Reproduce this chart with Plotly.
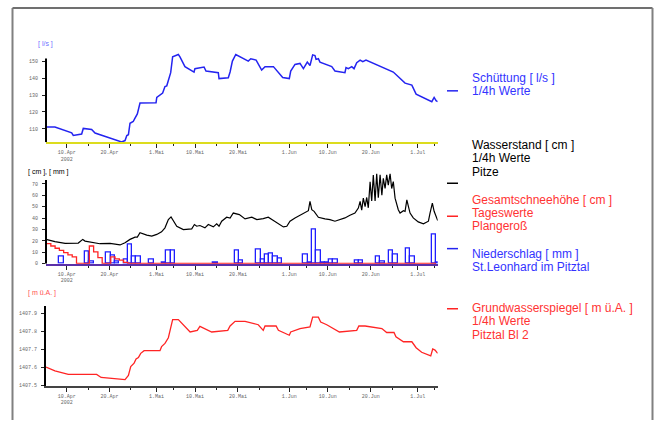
import plotly.graph_objects as go
import pandas as pd

# ---------------- data ----------------
# Schüttung [l/s], 1/4h Werte
q_time = ["04-05 04","04-07 06","04-11 04","04-11 13","04-13 12","04-13 21","04-15 20","04-16 15",
          "04-22 20","04-23 15","04-24 01","04-24 10","04-24 19","04-25 13","04-25 23","04-26 12",
          "04-27 03","04-30 21","05-01 01","05-02 10","05-02 23","05-03 09","05-04 07","05-04 18",
          "05-06 02","05-06 11","05-07 15","05-09 18","05-09 23","05-12 02","05-12 13","05-15 10",
          "05-15 14","05-17 18","05-18 04","05-18 17","05-19 12","05-22 10","05-23 00","05-24 06",
          "05-25 13","05-26 08","05-28 07","05-30 11","06-01 00","06-01 08","06-02 08","06-03 12",
          "06-04 07","06-05 05","06-05 20","06-06 11","06-07 00","06-07 06","06-07 19","06-08 04",
          "06-10 22","06-11 16","06-14 00","06-14 06","06-14 19","06-15 14","06-16 03","06-16 18",
          "06-17 13","06-18 04","06-18 22","06-25 07","06-28 01","06-29 15","06-30 15","07-04 07",
          "07-04 20","07-05 07","07-05 16"]
q_val = [111, 111, 107.6, 106, 106.9, 110.2, 109.6, 107.5, 102.2, 103, 106, 106.5, 113.3, 114.3,
         116.3, 118.8, 125.3, 125.5, 128.6, 131.2, 135.1, 135.5, 143.3, 152.8, 154.1, 152.7, 146.9,
         143.7, 145.7, 146.7, 144.3, 143.3, 139.8, 140.3, 143.7, 150.2, 154.1, 150.2, 151.6, 150.8,
         144.9, 146.9, 146.9, 140.4, 139.8, 144.3, 148.2, 148.8, 145.7, 149.6, 147.6, 153.9, 153.5,
         151.2, 151.6, 149.6, 146.9, 144.3, 143.3, 146.3, 145.7, 146.9, 145.7, 149.2, 150.8, 149.8,
         150.8, 143.7, 137.1, 135.9, 130.6, 126.1, 128.6, 126.7, 126.1]

# Wasserstand [cm], 1/4h Werte, Pitze
ws_time = ["04-05 04","04-06 02","04-07 06","04-09 15","04-12 17","04-13 18","04-14 07","04-17 18",
           "04-20 03","04-22 11","04-23 15","04-24 19","04-25 23","04-26 12","04-27 03","04-28 17",
           "04-29 21","05-01 01","05-02 04","05-02 23","05-03 18","05-04 09","05-04 22","05-05 17",
           "05-07 06","05-09 05","05-09 20","05-10 09","05-11 03","05-12 07","05-13 02","05-14 06",
           "05-15 01","05-15 14","05-16 05","05-17 09","05-18 04","05-18 22","05-20 08","05-21 16",
           "05-23 06","05-24 10","05-25 22","05-27 02","05-28 07","05-29 20","05-30 15","05-31 10",
           "06-01 04","06-02 08","06-03 12","06-04 16","06-05 11","06-05 20","06-06 06","06-06 19",
           "06-07 19","06-09 08","06-10 12","06-11 16","06-12 21","06-14 00","06-15 04","06-16 08",
           "06-17 03","06-17 13","06-17 22","06-18 07","06-18 17","06-19 02","06-19 11","06-19 21",
           "06-20 06","06-20 15","06-21 01","06-21 10","06-21 19","06-22 05","06-22 15","06-22 23",
           "06-23 09","06-23 18","06-24 03","06-24 13","06-24 22","06-25 07","06-25 17","06-26 02",
           "06-26 11","06-26 21","06-27 16","06-28 01","06-28 11","06-28 20","06-29 05","06-29 23",
           "07-01 03","07-02 08","07-03 12","07-03 21","07-04 10","07-04 20","07-05 07","07-05 16"]
ws_val = [21.2, 20.3, 19.2, 17.7, 18, 21.2, 19.7, 17.4, 17.7, 16.3, 18.3, 21.2, 23.2, 23.2, 27, 25,
          24.1, 25.6, 27.9, 31.4, 38.6, 41, 37.2, 32.8, 29.9, 30.5, 34.3, 32.8, 33.4, 31.4, 34.3, 32.2,
          34.9, 32.8, 37.2, 40.7, 40, 44.4, 43, 39.2, 40.7, 38.6, 39.5, 40.7, 37.8, 34.3, 32.2, 32.8,
          37.2, 40.1, 42.4, 44.4, 46.5, 54.6, 47.3, 45.9, 40.7, 39.2, 38.6, 37.2, 38.6, 40.1, 42.4, 44.4,
          48.8, 54.6, 47, 57.5, 50, 58.1, 49, 72, 55, 77.8, 55, 79, 58, 78, 60, 74.9,
          66, 78, 69, 79, 66, 72, 57.5, 51.7, 47.3, 44.4, 46.5, 45.9, 56, 50, 44.4, 40.1,
          36.6, 34.9, 37.2, 44.4, 53.1, 45.9, 40.7, 37.8]

# Gesamtschneehöhe [cm], Tageswerte, Plangeroß
snow_day = ["04-04","04-05","04-06","04-07","04-08","04-09","04-10","04-11","04-12","04-13","04-14",
            "04-15","04-16","04-17","04-18","04-19","04-20","04-21","04-22","04-23","04-24","07-05"]
snow_val = [17.4, 17.4, 15.4, 13.4, 11.6, 9.6, 7.6, 5.8, 0, 0, 0,
            15.4, 10.2, 5.2, 0, 0, 5.8, 4, 3, 1, 0, 0]

# Niederschlag [mm], St.Leonhard im Pitztal (daily sums)
rain_day = ["04-08","04-14","04-15","04-19","04-20","04-21","04-23","04-24","04-25","04-26","04-29",
            "05-02","05-03","05-04","05-14","05-19","05-20","05-24","05-25","05-26","05-27","05-28",
            "05-29","06-04","06-05","06-06","06-07","06-08","06-09","06-10","06-11","06-16","06-17",
            "06-21","06-22","06-24","06-25","06-28","06-29","07-04","07-05"]
rain_val = [5.8, 10.2, 1.5, 9.6, 6.7, 2, 3.8, 16.8, 5.8, 5.8, 3.8,
            1, 11, 11.6, 1, 11.6, 2.3, 11.9, 3.8, 8.1, 8.7, 6.1,
            4.4, 7.5, 0.5, 29.9, 11.6, 0.5, 1, 3.8, 3.8, 2.3, 2.3,
            5.8, 1.7, 11.6, 7.5, 13.4, 6.4, 25.6, 1]

# Grundwasserspiegel [m ü.A.], 1/4h Werte, Pitztal Bl 2
gw_time = ["04-05 04","04-07 06","04-10 09","04-17 00","04-18 01","04-20 03","04-23 15","04-24 10",
           "04-24 23","04-25 18","04-26 05","04-26 18","04-27 07","04-28 02","05-01 19","05-02 04",
           "05-02 23","05-03 18","05-04 18","05-06 02","05-07 15","05-08 20","05-10 12","05-11 03",
           "05-13 21","05-17 15","05-18 04","05-19 08","05-21 16","05-24 18","05-25 22","05-26 08",
           "05-28 22","05-29 11","06-01 00","06-01 08","06-03 12","06-05 20","06-06 11","06-07 19",
           "06-08 08","06-09 18","06-12 17","06-16 18","06-17 06","06-18 17","06-22 15","06-23 18",
           "06-25 11","06-25 22","06-27 16","06-29 15","06-30 15","07-01 22","07-04 01","07-04 12",
           "07-05 01","07-05 16"]
gw_val = [1407.602, 1407.582, 1407.562, 1407.562, 1407.545, 1407.542, 1407.533, 1407.556,
          1407.605, 1407.624, 1407.647, 1407.655, 1407.678, 1407.693, 1407.693, 1407.715,
          1407.733, 1407.764, 1407.864, 1407.864, 1407.824, 1407.796, 1407.805, 1407.827,
          1407.796, 1407.805, 1407.829, 1407.855, 1407.855, 1407.836, 1407.805, 1407.829,
          1407.829, 1407.805, 1407.778, 1407.796, 1407.815, 1407.824, 1407.878, 1407.878,
          1407.851, 1407.836, 1407.796, 1407.805, 1407.829, 1407.829, 1407.815, 1407.793,
          1407.793, 1407.769, 1407.742, 1407.742, 1407.709, 1407.684, 1407.664, 1407.702,
          1407.696, 1407.678]

x_range = ["2002-04-05 04:00", "2002-07-05 16:00"]
major_ticks = ["2002-04-10", "2002-04-20", "2002-05-01", "2002-05-10", "2002-05-20",
               "2002-06-01", "2002-06-10", "2002-06-20", "2002-07-01"]
major_labels = ["10.Apr<br>2002", "20.Apr", "1.Mai", "10.Mai", "20.Mai",
                "1.Jun", "10.Jun", "20.Jun", "1.Jul"]
minor_ticks = ["2002-04-15", "2002-04-25", "2002-05-05", "2002-05-15", "2002-05-25",
               "2002-06-05", "2002-06-15", "2002-06-25", "2002-07-05"]
q_ticks = [110, 120, 130, 140, 150]
mid_ticks = [0, 10, 20, 30, 40, 50, 60, 70]
gw_ticks = [1407.5, 1407.6, 1407.7, 1407.8, 1407.9]


def ts(lst):
    return pd.to_datetime(["2002-" + s + ":00" for s in lst])


def day_start(lst):
    # daily values refer to the meteorological day starting 07:00
    return pd.to_datetime(["2002-" + s for s in lst]) + pd.Timedelta(hours=7)


W, H = 654, 424
BLUE = "#2424f0"
RED = "#ff2424"

fig = go.Figure()

fig.add_trace(go.Scatter(x=ts(q_time), y=q_val, mode="lines",
                         line=dict(color=BLUE, width=1.5), xaxis="x", yaxis="y"))

fig.add_trace(go.Bar(x=day_start(rain_day) + pd.Timedelta(hours=12), y=rain_val,
                     width=86400000, marker=dict(color="white", line=dict(color="#1e1eff", width=1.3)),
                     xaxis="x2", yaxis="y2"))
fig.add_trace(go.Scatter(x=day_start(snow_day), y=snow_val, mode="lines", line_shape="hv",
                         line=dict(color=RED, width=1.3), xaxis="x2", yaxis="y2"))
fig.add_trace(go.Scatter(x=ts(ws_time), y=ws_val, mode="lines",
                         line=dict(color="black", width=1.2), xaxis="x2", yaxis="y2"))

fig.add_trace(go.Scatter(x=ts(gw_time), y=gw_val, mode="lines",
                         line=dict(color=RED, width=1.3), xaxis="x3", yaxis="y3"))


def px_x(p):
    return p / W


def px_y(p):
    return 1 - p / H


xdom = [px_x(46), px_x(437.7)]
tickfont = dict(family="Liberation Mono", size=5, color="#666666")


def xaxis(anchor, linecolor):
    return dict(type="date", domain=xdom, anchor=anchor, range=x_range,
                tickmode="array", tickvals=major_ticks, ticktext=major_labels,
                ticks="outside", ticklen=4, tickwidth=1, tickcolor="#222222",
                tickfont=tickfont, showgrid=False, zeroline=False,
                showline=True, linecolor=linecolor, linewidth=2,
                minor=dict(tickmode="array", tickvals=minor_ticks, ticks="outside",
                           ticklen=2, tickwidth=1, tickcolor="#222222"))


def yaxis(anchor, dom, rng, tv, fmt=None, showline=False):
    d = dict(domain=dom, anchor=anchor, range=rng, tickmode="array", tickvals=tv,
             ticks="outside", ticklen=3, tickwidth=1, tickcolor="#222222",
             tickfont=tickfont, showgrid=False, zeroline=False,
             showline=showline, linecolor="black", linewidth=2, ticklabelstandoff=3)
    if fmt:
        d["tickformat"] = fmt
    return d


fig.update_layout(
    width=W, height=H, margin=dict(l=0, r=0, t=0, b=0),
    paper_bgcolor="white", plot_bgcolor="white", showlegend=False, bargap=0,
    xaxis=xaxis("y", "#dcdc1e"),
    xaxis2=xaxis("y2", "#5a30a8"),
    xaxis3=xaxis("y3", "#444444"),
    yaxis=yaxis("x", [px_y(143.6), px_y(53.5)], [102, 155], q_ticks),
    yaxis2=yaxis("x2", [px_y(266.34), px_y(174.24)], [-0.3, 80], mid_ticks),
    yaxis3=yaxis("x3", [px_y(389.3), px_y(308.78)], [1407.5, 1407.94], gw_ticks, ".1f", True),
)

shapes = [
    # y axis lines of the upper panels
    dict(type="line", xref="x domain", yref="y", x0=0, x1=0, y0=102, y1=151.8,
         line=dict(color="black", width=2)),
    dict(type="line", xref="x2 domain", yref="y2", x0=0, x1=0, y0=-0.3, y1=73.5,
         line=dict(color="black", width=2)),
    # frame
    dict(type="line", xref="paper", yref="paper", x0=px_x(12.5), x1=px_x(12.5),
         y0=px_y(8), y1=0, line=dict(color="#808080", width=2)),
    dict(type="line", xref="paper", yref="paper", x0=px_x(12.5), x1=px_x(652.5),
         y0=px_y(8), y1=px_y(8), line=dict(color="#707070", width=2)),
    dict(type="line", xref="paper", yref="paper", x0=px_x(652.5), x1=px_x(652.5),
         y0=px_y(8), y1=0, line=dict(color="#808080", width=2)),
]
legend_marks = [(91.7, BLUE), (185, "black"), (218.3, RED), (251, BLUE), (311.7, RED)]
for yy, c in legend_marks:
    shapes.append(dict(type="line", xref="paper", yref="paper", x0=px_x(447), x1=px_x(458),
                       y0=px_y(yy), y1=px_y(yy), line=dict(color=c, width=1.5)))
fig.update_layout(shapes=shapes)

ann = []


def text(x, y, s, color, size=12, anchor="left"):
    ann.append(dict(xref="paper", yref="paper", x=px_x(x), y=px_y(y), text=s,
                    showarrow=False, xanchor=anchor, yanchor="middle",
                    font=dict(family="Liberation Sans", size=size, color=color)))


text(35.5, 44.5, "[ l/s ]", "#7070ff", 7)
text(25.5, 173.5, "[ cm ], [ mm ]", "black", 7)
text(25.5, 295.5, "[ m ü.A. ]", "#ff5050", 7)

LB = "#3333ff"
LR = "#ff3333"
legend_lines = [
    (78.3, "Schüttung [ l/s ]", LB), (91.7, "1/4h Werte", LB),
    (146, "Wasserstand [ cm ]", "black"), (159.7, "1/4h Werte", "black"), (173.3, "Pitze", "black"),
    (201.7, "Gesamtschneehöhe [ cm ]", LR), (215, "Tageswerte", LR), (228.3, "Plangeroß", LR),
    (256.7, "Niederschlag [ mm ]", LB), (269.5, "St.Leonhard im Pitztal", LB),
    (310.7, "Grundwasserspiegel [ m ü.A. ]", LR), (324.2, "1/4h Werte", LR), (337.7, "Pitztal Bl 2", LR),
]
for yy, s, c in legend_lines:
    text(470, yy, s, c, 12)

fig.update_layout(annotations=ann)

fig.write_html("out.html", config={"displayModeBar": False},
               post_script=["document.body.style.margin='0px';document.body.style.overflow='hidden';"])
